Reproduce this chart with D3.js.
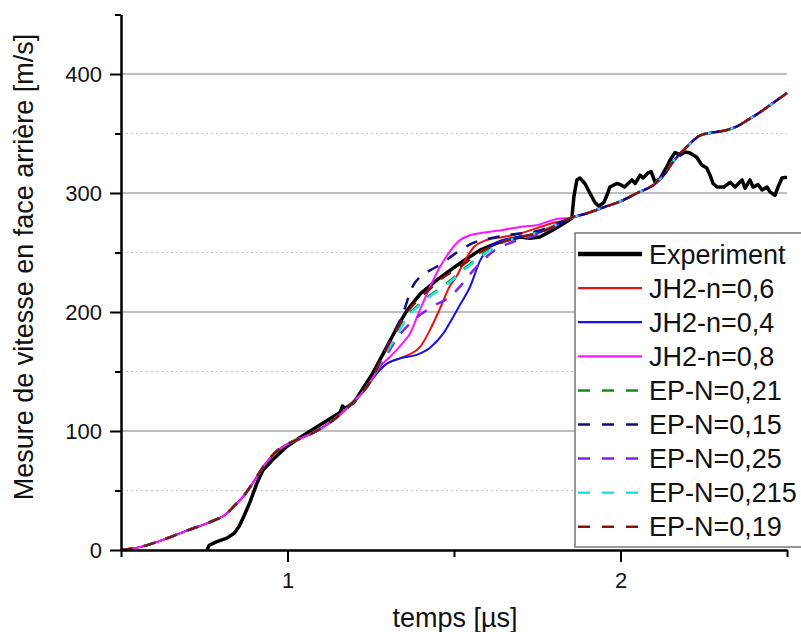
<!DOCTYPE html>
<html><head><meta charset="utf-8">
<script src="https://cdn.jsdelivr.net/npm/d3@7"></script>
<style>body{margin:0;background:#fff} svg{display:block}</style>
</head><body><svg id="c" width="801" height="632"></svg>
<script>
// ---------- data ----------
const xDomain = [0.5, 2.5];
const yDomain = [0, 450];
const xMajorTicks = [1, 2];
const xMinorTicks = [0.5, 1.5, 2.5];
const yMajorTicks = [0, 100, 200, 300, 400];
const yMinorTicks = [50, 150, 250, 350, 450];

const experiment = [[0.758,0],[0.765,4],[0.788,7],[0.818,10],[0.84,14],[0.855,20],[0.87,29],[0.887,40],[0.908,56],[0.926,67],[0.956,76],[0.998,87],[1.04,95],[1.089,103.5],[1.137,112],[1.158,115.5],[1.165,121],[1.172,119],[1.2,124],[1.227,136],[1.257,149],[1.293,168],[1.329,187],[1.358,201],[1.398,215],[1.449,227],[1.488,235],[1.518,241],[1.578,252],[1.638,259],[1.698,263],[1.728,262],[1.758,263],[1.797,269],[1.839,276],[1.854,279],[1.86,297],[1.869,311],[1.878,312.6],[1.893,308],[1.908,300],[1.923,292],[1.935,289],[1.95,292],[1.962,300],[1.968,305],[1.989,308],[2.0,307],[2.012,305],[2.034,311],[2.044,308],[2.059,315],[2.068,312.6],[2.083,317],[2.092,318],[2.104,309],[2.119,312],[2.135,320],[2.149,327.7],[2.164,334],[2.179,332],[2.194,334.5],[2.209,333.6],[2.229,330],[2.244,323.5],[2.259,321],[2.269,315],[2.278,308],[2.29,305],[2.31,305],[2.329,309],[2.344,305],[2.365,311],[2.374,304],[2.389,311],[2.398,305],[2.413,307],[2.425,302.5],[2.44,305],[2.449,301],[2.464,298],[2.473,305],[2.485,312.6],[2.494,313],[2.5,313]];

// shared part of all simulations (before divergence / after convergence)
const simEarly = [[0.5,0],[0.55,2],[0.6,6],[0.65,11],[0.7,16.5],[0.75,21.5],[0.78,25],[0.81,29],[0.84,37],[0.87,46],[0.9,58],[0.93,71],[0.96,81],[1.0,89],[1.05,95],[1.1,102],[1.15,112],[1.2,125],[1.23,134]];
const simLate = [[1.85,279],[1.9,283],[1.95,288],[2.0,293],[2.05,300],[2.1,307],[2.13,315],[2.16,327],[2.2,339],[2.24,348.5],[2.28,351],[2.32,353],[2.35,356],[2.38,361],[2.42,368],[2.46,376],[2.5,384]];

const jh2n06 = [[1.25,142],[1.293,155.5],[1.347,162],[1.398,170.6],[1.428,185],[1.458,203],[1.488,222],[1.508,230],[1.528,241],[1.558,254],[1.598,260.5],[1.647,263],[1.698,266],[1.749,270.5],[1.797,274.8],[1.83,277]];
const jh2n04 = [[1.25,142],[1.293,155.5],[1.338,161],[1.388,164],[1.428,170],[1.468,182],[1.498,196],[1.518,206],[1.548,221],[1.578,243],[1.608,254.5],[1.647,260.5],[1.698,263],[1.749,266],[1.797,271.5],[1.83,276]];
const jh2n08 = [[1.25,142],[1.278,154],[1.31,163],[1.34,172],[1.368,182],[1.398,202],[1.428,221],[1.458,238],[1.488,251],[1.508,258],[1.548,264.5],[1.598,267],[1.647,269],[1.698,271.5],[1.749,273],[1.788,276.5],[1.818,278.5]];
const epN021 = [[1.25,142],[1.29,163],[1.33,182],[1.358,196],[1.39,205],[1.419,212],[1.478,224],[1.538,238],[1.598,251],[1.658,260],[1.72,264],[1.78,270]];
const epN015 = [[1.25,142],[1.29,166],[1.32,183],[1.347,199],[1.373,220],[1.4,230],[1.428,235],[1.46,240],[1.498,248],[1.558,258],[1.628,263],[1.698,266],[1.75,268],[1.8,273]];
const epN025 = [[1.25,142],[1.29,160],[1.329,178],[1.378,193],[1.438,205],[1.488,213],[1.52,222],[1.558,235],[1.618,251],[1.678,259],[1.74,264],[1.79,270]];
const epN0215 = [[1.25,142],[1.29,163],[1.33,181],[1.358,195],[1.39,204],[1.419,211],[1.478,223],[1.538,237],[1.598,250],[1.658,259.5],[1.72,264],[1.78,270]];
const epN019 = [[1.25,142],[1.29,165],[1.33,186],[1.36,200],[1.398,212],[1.43,220],[1.458,227],[1.518,238],[1.578,250],[1.638,258],[1.7,263],[1.76,267],[1.8,272]];

const seriesLabels = ["Experiment","JH2-n=0,6","JH2-n=0,4","JH2-n=0,8","EP-N=0,21","EP-N=0,15","EP-N=0,25","EP-N=0,215","EP-N=0,19"];
const seriesMiddles = [null, jh2n06, jh2n04, jh2n08, epN021, epN015, epN025, epN0215, epN019];

// ---------- styles ----------
const styles = [
  {color:"#000000", w:3.5, lw:4.5, dash:null},
  {color:"#ee1111", w:2, lw:2.2, dash:null},
  {color:"#1414e0", w:2, lw:2.2, dash:null},
  {color:"#ff14ff", w:2, lw:2.2, dash:null},
  {color:"#1c8c1c", w:2.5, lw:2.5, dash:"12,11"},
  {color:"#10107c", w:2.5, lw:2.5, dash:"12,11"},
  {color:"#8420f0", w:2.5, lw:2.5, dash:"12,11"},
  {color:"#22e4e4", w:2.5, lw:2.5, dash:"12,11"},
  {color:"#8a1010", w:2.5, lw:2.5, dash:"12,11"}
];
const FONT = "'Liberation Sans', Arial, Helvetica, sans-serif";

const svg = d3.select("#c");
const x = d3.scaleLinear().domain(xDomain).range([121, 787]);
const y = d3.scaleLinear().domain(yDomain).range([550, 14.5]);

// grid
const g = svg.append("g");
g.selectAll("line.maj").data(yMajorTicks.filter(d => d > 0)).join("line")
  .attr("x1", x(xDomain[0])).attr("x2", x(xDomain[1]))
  .attr("y1", d => y(d)).attr("y2", d => y(d))
  .attr("stroke", "#a8a8a8").attr("stroke-width", 1.3);
g.selectAll("line.min").data(yMinorTicks.filter(d => d < 450)).join("line")
  .attr("x1", x(xDomain[0])).attr("x2", x(xDomain[1]))
  .attr("y1", d => y(d)).attr("y2", d => y(d))
  .attr("stroke", "#c8c8c8").attr("stroke-width", 1).attr("stroke-dasharray", "2,3");

// curves
svg.append("defs").append("clipPath").attr("id", "clip").append("rect")
  .attr("x", 121).attr("y", 0).attr("width", 668).attr("height", 551);
const line = d3.line().x(d => x(d[0])).y(d => y(d[1])).curve(d3.curveMonotoneX);
const lineLin = d3.line().x(d => x(d[0])).y(d => y(d[1]));
const cg = svg.append("g").attr("clip-path", "url(#clip)");
seriesLabels.forEach((lab, i) => {
  const st = styles[i];
  const data = i === 0 ? experiment : simEarly.concat(seriesMiddles[i], simLate);
  const p = cg.append("path").datum(data)
    .attr("d", i === 0 ? lineLin(data) : line(data))
    .attr("fill", "none").attr("stroke", st.color).attr("stroke-width", st.w)
    .attr("stroke-linejoin", "round").attr("stroke-linecap", "butt");
  if (st.dash) p.attr("stroke-dasharray", st.dash);
});

// axes
svg.append("g").attr("transform", "translate(0,550)")
  .call(d3.axisBottom(x).tickValues(xMajorTicks).tickSize(12).tickSizeOuter(0).tickPadding(10).tickFormat(d3.format("d")));
svg.append("g").attr("transform", "translate(0,550)")
  .call(d3.axisBottom(x).tickValues(xMinorTicks).tickSize(7).tickSizeOuter(0).tickFormat(""));
svg.append("g").attr("transform", "translate(121,0)")
  .call(d3.axisLeft(y).tickValues(yMajorTicks).tickSize(11).tickSizeOuter(0).tickPadding(8).tickFormat(d3.format("d")));
svg.append("g").attr("transform", "translate(121,0)")
  .call(d3.axisLeft(y).tickValues(yMinorTicks).tickSize(6).tickSizeOuter(0).tickFormat(""));
svg.selectAll(".domain").attr("stroke", "#000").attr("stroke-width", 2);
svg.selectAll(".tick line").attr("stroke", "#000").attr("stroke-width", 2);
svg.selectAll(".tick text").attr("font-family", FONT).attr("font-size", 22).attr("fill", "#111");

// axis titles
svg.append("text").attr("x", 455).attr("y", 627).attr("text-anchor", "middle")
  .attr("font-family", FONT).attr("font-size", 27).attr("fill", "#111").text("temps [µs]");
svg.append("text").attr("transform", "translate(33,267) rotate(-90)").attr("text-anchor", "middle")
  .attr("font-family", FONT).attr("font-size", 27).attr("fill", "#111").text("Mesure de vitesse en face arrière [m/s]");

// legend
const lg = svg.append("g");
lg.append("rect").attr("x", 575).attr("y", 233).attr("width", 250).attr("height", 314)
  .attr("fill", "#fff").attr("stroke", "#777").attr("stroke-width", 1.5);
seriesLabels.forEach((lab, i) => {
  const st = styles[i];
  const ly = 254 + i * 34.1;
  const l = lg.append("line").attr("x1", 578).attr("x2", 642).attr("y1", ly).attr("y2", ly)
    .attr("stroke", st.color).attr("stroke-width", st.lw);
  if (st.dash) l.attr("stroke-dasharray", "12,12");
  lg.append("text").attr("x", 649).attr("y", ly + 9.5).attr("font-family", FONT)
    .attr("font-size", 27).attr("fill", "#111").text(lab);
});
</script></body></html>
